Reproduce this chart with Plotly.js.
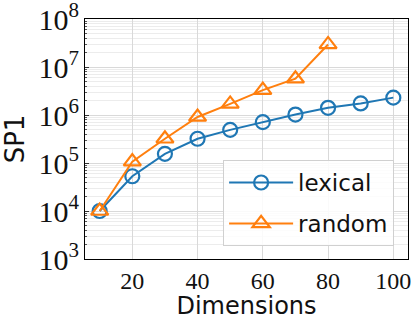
<!DOCTYPE html>
<html>
<head>
<meta charset="utf-8">
<script src="https://cdn.plot.ly/plotly-3.0.1.min.js"></script>
<style>html,body{margin:0;padding:0;background:#fff;}#chart{width:415px;height:320px;}</style>
</head>
<body>
<div id="chart"></div>
<script>
const dimsLexical = [10, 20, 30, 40, 50, 60, 70, 80, 90, 100];
const lexicalSP1 = [1.0e4, 5.3e4, 1.55e5, 3.2e5, 4.9e5, 7.1e5, 1.02e6, 1.41e6, 1.74e6, 2.3e6];
const dimsRandom = [10, 20, 30, 40, 50, 60, 70, 80];
const randomSP1 = [1.0e4, 1.07e5, 3.2e5, 9.1e5, 1.7e6, 3.3e6, 5.7e6, 2.95e7];
const xTicks = [20, 40, 60, 80, 100];
const seriesNames = ["lexical", "random"];

const serif = "Liberation Serif, DejaVu Serif, serif";
const sans = "DejaVu Sans, sans-serif";

const traces = [
  {
    x: dimsLexical, y: lexicalSP1, name: seriesNames[0], legendgroup: "a", type: "scatter", mode: "lines+markers",
    line: {color: "#1f77b4", width: 2},
    marker: {symbol: "circle-open", size: 14, color: "#1f77b4", line: {width: 2.2, color: "#1f77b4"}}
  },
  {
    x: dimsRandom, y: randomSP1, name: seriesNames[1], legendgroup: "b", type: "scatter", mode: "lines+markers",
    line: {color: "#ff7f0e", width: 2},
    marker: {symbol: "triangle-up-open", size: 15, color: "#ff7f0e", line: {width: 2.2, color: "#ff7f0e"}}
  }
];

const layout = {
  width: 415, height: 320,
  margin: {l: 85, r: 7, t: 19, b: 61},
  paper_bgcolor: "#ffffff", plot_bgcolor: "#ffffff",
  showlegend: true,
  xaxis: {
    range: [5.5, 104.5],
    tickvals: xTicks, ticktext: xTicks.map(String),
    showgrid: true, gridcolor: "#d9d9d9", gridwidth: 1,
    zeroline: false,
    showline: true, linecolor: "#000", linewidth: 1.2, mirror: true,
    ticks: "", tickfont: {family: serif, size: 24, color: "#111"},
    ticklabeloverflow: "allow",
    title: {text: "Dimensions", font: {family: sans, size: 24, color: "#111"}, standoff: 7}
  },
  yaxis: {
    type: "log", range: [3, 8],
    dtick: 1, exponentformat: "power",
    showgrid: true, gridcolor: "#d9d9d9", gridwidth: 1,
    zeroline: false,
    showline: true, linecolor: "#000", linewidth: 1.2, mirror: true,
    ticks: "inside", ticklen: 4, tickcolor: "#333",
    tickfont: {family: serif, size: 24, color: "#111"},
    ticklabeloverflow: "allow",
    minor: {dtick: "D1", showgrid: true, gridcolor: "#ececec", gridwidth: 1, ticks: "inside", ticklen: 2, tickcolor: "#555"},
    title: {text: "SP1", font: {family: sans, size: 26, color: "#111"}, standoff: 7}
  },
  legend: {
    x: 0.957, y: 0.054, xanchor: "right", yanchor: "bottom",
    bgcolor: "rgba(255,255,255,0.85)", bordercolor: "#d0d0d0", borderwidth: 1,
    font: {family: sans, size: 23, color: "#111"},
    itemwidth: 64, tracegroupgap: 8
  }
};

Plotly.newPlot("chart", traces, layout, {displayModeBar: false, staticPlot: true});
</script>
</body>
</html>
